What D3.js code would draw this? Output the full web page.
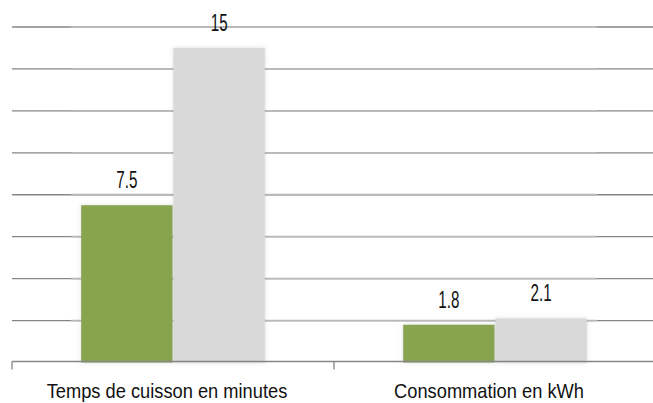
<!DOCTYPE html>
<html>
<head>
<meta charset="utf-8">
<script src="https://cdn.jsdelivr.net/npm/d3@7"></script>
<style>
  html, body { margin: 0; padding: 0; background: #ffffff; }
  svg { display: block; }
  text { font-family: "Liberation Sans", Arial, sans-serif; fill: #111; }
</style>
</head>
<body>
<svg id="chart" width="653" height="403"></svg>
<script>
// Chart data
const categories = ["Temps de cuisson en minutes", "Consommation en kWh"];
const seriesNames = ["Série 1", "Série 2"];
const series1 = [7.5, 1.8];
const series2 = [15, 2.1];
const valueLabels1 = ["7.5", "1.8"];
const valueLabels2 = ["15", "2.1"];
const yTicks = [0, 2, 4, 6, 8, 10, 12, 14, 16];

const colors = { "Série 1": "#88a44d", "Série 2": "#d9d9d9" };

const rows = categories.map((c, i) => ({
  category: c,
  values: [
    { series: seriesNames[0], value: series1[i], label: valueLabels1[i] },
    { series: seriesNames[1], value: series2[i], label: valueLabels2[i] }
  ]
}));

const svg = d3.select("#chart");
const W = 653, H = 403;
const plot = { left: 12, right: 656, top: 27, bottom: 362.5 };

const x0 = d3.scaleBand().domain(categories).range([plot.left, plot.right]).paddingInner(0).paddingOuter(0);
const x1 = d3.scaleBand().domain(seriesNames).range([0, x0.bandwidth()]).paddingInner(0.01).paddingOuter(0.75);
const y = d3.scaleLinear().domain([0, 16]).range([plot.bottom, plot.top]);

// Soft halo around the bars
const defs = svg.append("defs");
const f = defs.append("filter").attr("id", "halo").attr("x", "-20%").attr("y", "-20%").attr("width", "140%").attr("height", "140%");
f.append("feGaussianBlur").attr("in", "SourceAlpha").attr("stdDeviation", 2.2).attr("result", "b");
f.append("feFlood").attr("flood-color", "#9a9a9a").attr("flood-opacity", 0.35).attr("result", "c");
f.append("feComposite").attr("in", "c").attr("in2", "b").attr("operator", "in").attr("result", "s");
const m = f.append("feMerge");
m.append("feMergeNode").attr("in", "s");
m.append("feMergeNode").attr("in", "SourceGraphic");

// Horizontal gridlines (dark at the ends, softened across the series area)
const seriesLeft = x0(categories[0]) + x1(seriesNames[0]) - 10;
const seriesRight = x0(categories[categories.length - 1]) + x1(seriesNames[seriesNames.length - 1]) + x1.bandwidth() + 10;

const grid = svg.append("g").attr("class", "grid");
grid.selectAll("line.g")
  .data(yTicks.filter(t => t > 0))
  .join("line")
  .attr("class", "g")
  .attr("x1", plot.left).attr("x2", W)
  .attr("y1", d => y(d)).attr("y2", d => y(d))
  .attr("stroke", "#868686").attr("stroke-width", 1.3);
grid.selectAll("line.soft")
  .data(yTicks.filter(t => t > 0))
  .join("line")
  .attr("class", "soft")
  .attr("x1", seriesLeft).attr("x2", seriesRight)
  .attr("y1", d => y(d)).attr("y2", d => y(d))
  .attr("stroke", "#b9b9b9").attr("stroke-width", 1.8);

// Bars
const groups = svg.append("g").selectAll("g.cat")
  .data(rows)
  .join("g")
  .attr("class", "cat")
  .attr("transform", d => `translate(${x0(d.category)},0)`);

groups.selectAll("rect")
  .data(d => d.values)
  .join("rect")
  .attr("x", d => x1(d.series))
  .attr("y", d => y(d.value))
  .attr("width", x1.bandwidth())
  .attr("height", d => y(0) - y(d.value))
  .attr("fill", d => colors[d.series])
  .attr("filter", "url(#halo)");

// Value labels above the bars (tall, condensed digits)
groups.selectAll("text.val")
  .data(d => d.values)
  .join("text")
  .attr("class", "val")
  .attr("text-anchor", "middle")
  .attr("font-size", 23)
  .attr("transform", d => `translate(${x1(d.series) + x1.bandwidth() / 2},${y(d.value) - 25 + 8}) scale(0.66,1)`)
  .text(d => d.label);

// Category axis
const axisG = svg.append("g").attr("transform", `translate(0,${y(0) - 1})`);
axisG.append("line")
  .attr("x1", plot.left).attr("x2", W)
  .attr("stroke", "#868686").attr("stroke-width", 1.3);
axisG.selectAll("line.tick")
  .data(categories)
  .join("line")
  .attr("class", "tick")
  .attr("x1", d => x0(d)).attr("x2", d => x0(d))
  .attr("y1", 0).attr("y2", 8)
  .attr("stroke", "#868686").attr("stroke-width", 1.3);

svg.append("g").selectAll("text.cat")
  .data(categories)
  .join("text")
  .attr("class", "cat")
  .attr("text-anchor", "middle")
  .attr("font-size", 21)
  .attr("fill", "#222")
  .attr("transform", d => `translate(${x0(d) + x0.bandwidth() / 2 - 6},398) scale(0.87,1)`)
  .text(d => d);
</script>
</body>
</html>
